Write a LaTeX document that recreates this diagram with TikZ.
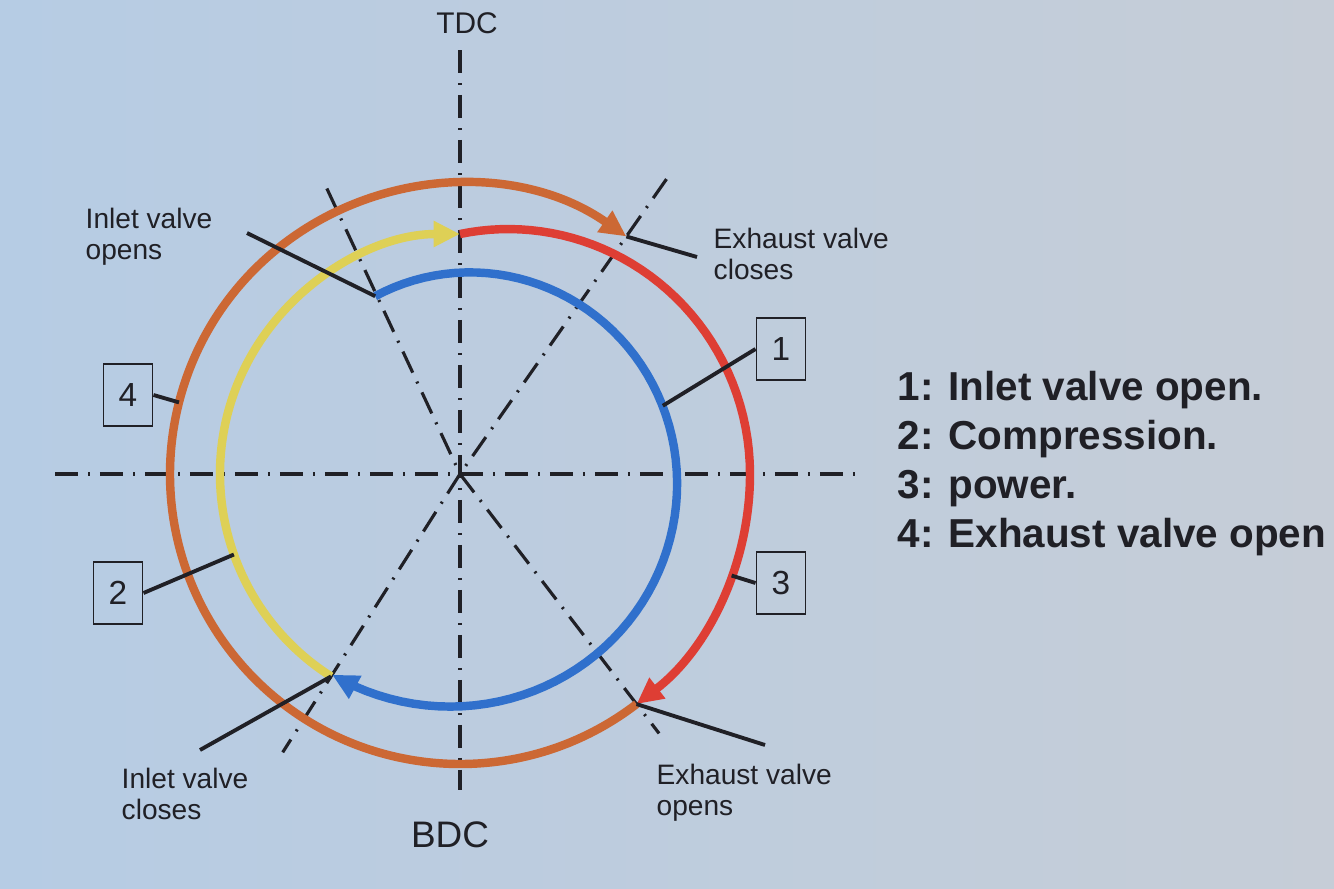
\documentclass[tikz,border=0pt]{standalone}
\usepackage{fontspec}
\setmainfont{Liberation Sans}
\usetikzlibrary{arrows.meta}

\definecolor{paper}{RGB}{182,204,228}
\definecolor{papergrey}{RGB}{198,205,215}
\definecolor{exhaustc}{RGB}{204,104,52}
\definecolor{powerc}{RGB}{222,62,52}
\definecolor{comprc}{RGB}{222,208,86}
\definecolor{inletc}{RGB}{48,112,204}
\definecolor{ink}{RGB}{32,32,38}

\begin{document}
\begin{tikzpicture}[
  centre/.style={ink, line width=0.9pt, dash pattern=on 6.6pt off 2.8pt on 0.6pt off 2.8pt},
  stroke/.style={line width=2.4pt, -{Triangle[length=7.5pt,width=7pt]}},
  leader/.style={ink, line width=1.1pt},
  numbox/.style={draw=ink, line width=0.5pt, minimum width=14pt, minimum height=17.5pt, inner sep=0pt, text=ink, font=\fontsize{9.5}{10}\selectfont},
  lbl/.style={anchor=north west, inner sep=0pt, align=left, text=ink, font=\fontsize{8}{9}\selectfont},
  legend/.style={anchor=base west, inner sep=0pt, text=ink, font=\fontsize{11.5}{14}\selectfont\bfseries},
]
% Paper
\shade[left color=paper, right color=papergrey] (0,0) rectangle (13.34,8.88);
\useasboundingbox (0,0) rectangle (13.34,8.88);

\coordinate (O) at (4.60,4.14);

\begin{scope}[shift={(O)}]
% Crank angles
\coordinate (tdc) at (90:4.24);
\coordinate (bdc) at (-90:3.16);
\coordinate (west) at (180:4.05);
\coordinate (east) at (0:3.95);
\coordinate (ivo) at (115.5:1.97);
\coordinate (ivc) at (237.5:2.40);
\coordinate (evo) at (-52.5:2.90);
\coordinate (evc) at (55:2.90);
\coordinate (ivoEnd) at (115:3.15);
\coordinate (evoEnd) at (-52.5:3.27);
\coordinate (evcEnd) at (55:3.60);
\coordinate (ivcEnd) at (237.5:3.30);

% Centre lines
\draw[centre] (tdc) -- (bdc);
\draw[centre] (west) -- (east);
\draw[centre] (ivoEnd) -- (0,0) -- (evoEnd);
\draw[centre] (evcEnd) -- (0,0) -- (ivcEnd);

% Strokes
\draw[stroke, exhaustc] (evo) arc[start angle=-52.5, end angle=-305, radius=2.90];
\draw[stroke, comprc] (ivc) arc[start angle=237.5, end angle=90, radius=2.40];
\draw[stroke, powerc] plot[domain=90:0, samples=40] (\x:{2.40+0.50*sin(90-\x)})
  arc[start angle=0, end angle=-52.5, radius=2.90];
\draw[stroke, inletc] plot[domain=115.5:-122.5, samples=80] (\x:{1.97+0.41*(115.5-\x)/238});

% Points for the number boxes
\coordinate (p1) at (18.6:2.14);
\coordinate (p2) at (199.6:2.40);
\coordinate (p3) at (-20.5:2.90);
\coordinate (p4) at (165.7:2.90);
\end{scope}

% Dead centres
\node[text=ink, anchor=base, inner sep=0pt, font=\fontsize{8.5}{10}\selectfont] (tdcTxt) at (4.67,8.55) {TDC};
\node[text=ink, anchor=base, inner sep=0pt, font=\fontsize{10.5}{12}\selectfont] (bdcTxt) at (4.50,0.41) {BDC};

% Valve events
\node[lbl] (ivoTxt) at (0.85,6.81) {Inlet valve\\opens};
\node[lbl] (evcTxt) at (7.13,6.61) {Exhaust valve\\closes};
\node[lbl] (ivcTxt) at (1.21,1.21) {Inlet valve\\closes};
\node[lbl] (evoTxt) at (6.56,1.25) {Exhaust valve\\opens};
\coordinate (ivoFree) at (2.47,6.55);
\coordinate (evcFree) at (6.97,6.31);
\coordinate (ivcFree) at (2.00,1.38);
\coordinate (evoFree) at (7.65,1.43);
\draw[leader] (ivo) -- (ivoFree);
\draw[leader] (evc) -- (evcFree);
\draw[leader] (ivc) -- (ivcFree);
\draw[leader] (evo) -- (evoFree);

% Number boxes
\node[numbox] (n1) at (7.81,5.39) {1};
\node[numbox] (n2) at (1.18,2.95) {2};
\node[numbox] (n3) at (7.81,3.05) {3};
\node[numbox] (n4) at (1.28,4.93) {4};
\draw[leader] (n1.west) -- (p1);
\draw[leader] (n2.east) -- (p2);
\draw[leader] (n3.west) -- (p3);
\draw[leader] (n4.east) -- (p4);

% Legend
\foreach \i/\txt in {1/Inlet valve open., 2/Compression., 3/power., 4/Exhaust valve open}
  \node[legend] (leg\i) at (8.97,{4.88-0.49*(\i-1)}) {\i: \txt};
\end{tikzpicture}
\end{document}
